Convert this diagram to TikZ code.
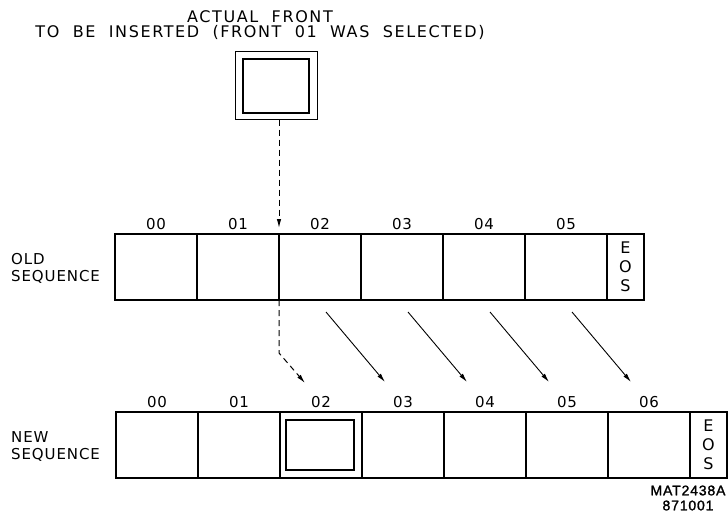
\documentclass[tikz,border=0pt]{standalone}
\usepackage{fontspec}
\setmainfont{DejaVu Sans}[LetterSpace=6]
\newfontfamily\titlefont{DejaVu Sans}[LetterSpace=10,WordSpace=2]
\newfontfamily\stampfont{Liberation Sans}[FakeBold=1.5,LetterSpace=6]
\usetikzlibrary{positioning,arrows.meta}

\begin{document}
\begin{tikzpicture}[
            x=1pt, y=1pt,
            font=\fontsize{15}{17}\selectfont,
            cell/.style={draw, line width=1.1pt, inner sep=0pt, outer sep=0pt,
                         minimum width=82pt, minimum height=66pt},
            eoscell/.style={cell, minimum width=37pt, align=center,
                         font=\fontsize{16}{19}\selectfont},
            idx/.style={inner sep=0pt, above=4pt of #1},
            side/.style={align=left, anchor=west, inner sep=0pt},
            insert/.style={dash pattern=on 6pt off 4pt, line width=1pt,
                         -{Latex[length=9pt,width=4.5pt]}},
            movearrow/.style={line width=0.9pt, -{Latex[length=9pt,width=4.5pt]}}
        ]
            \useasboundingbox (0,0) rectangle (728,-520);

            % Front to be inserted
            \node[align=center, font=\titlefont\fontsize{16}{15}\selectfont] (title) at (260,-25) {ACTUAL FRONT\\TO BE INSERTED (FRONT 01 WAS SELECTED)};
            \node[draw, line width=1pt, minimum width=82pt, minimum height=68pt] (front) at (276,-85) {};
            \node[draw, line width=1.6pt, minimum width=66pt, minimum height=54pt] (frontin) at (276,-86) {};

            % Old sequence
            \node[cell] (o0) at (156,-267) {};
            \foreach \i [remember=\i as \j (initially 0)] in {1,...,5}
                \node[cell, right=0pt of o\j] (o\i) {};
            \node[eoscell, right=0pt of o5] (oE) {E\\O\\S};
            \foreach \i in {0,...,5}
                \node[idx=o\i] {0\i};
            \node[side] (oldlbl) at (11,-268) {OLD\\SEQUENCE};

            % New sequence
            \node[cell] (n0) at (157,-445) {};
            \foreach \i [remember=\i as \j (initially 0)] in {1,...,6}
                \node[cell, right=0pt of n\j] (n\i) {};
            \node[eoscell, right=0pt of n6] (nE) {E\\O\\S};
            \foreach \i in {0,...,6}
                \node[idx=n\i] {0\i};
            \node[side] (newlbl) at (11,-446) {NEW\\SEQUENCE};
            \node[draw, line width=1.6pt, minimum width=68pt, minimum height=50pt] (placed) at (320,-445) {};

            % Insertion path
            \coordinate (bend) at ([yshift=-53pt]o2.south west);
            \coordinate (drop) at ([xshift=25pt,yshift=29pt]n2.north west);
            \draw[insert] (front.south -| o2.north west) -- ([yshift=6pt]o2.north west);
            \draw[insert] (o2.south west) -- (bend) -- (drop);

            % Moved fronts
            \foreach \i [evaluate=\i as \k using int(\i+1)] in {2,...,5}
                \draw[movearrow] ([xshift=47pt,yshift=-12pt]o\i.south west) -- ([xshift=23pt,yshift=30pt]n\k.north west);

            % Drawing number
            \node[align=center, font=\stampfont\fontsize{14}{15}\selectfont] (stamp) at (688,-498) {MAT2438A\\871001};
        \end{tikzpicture}
\end{document}
